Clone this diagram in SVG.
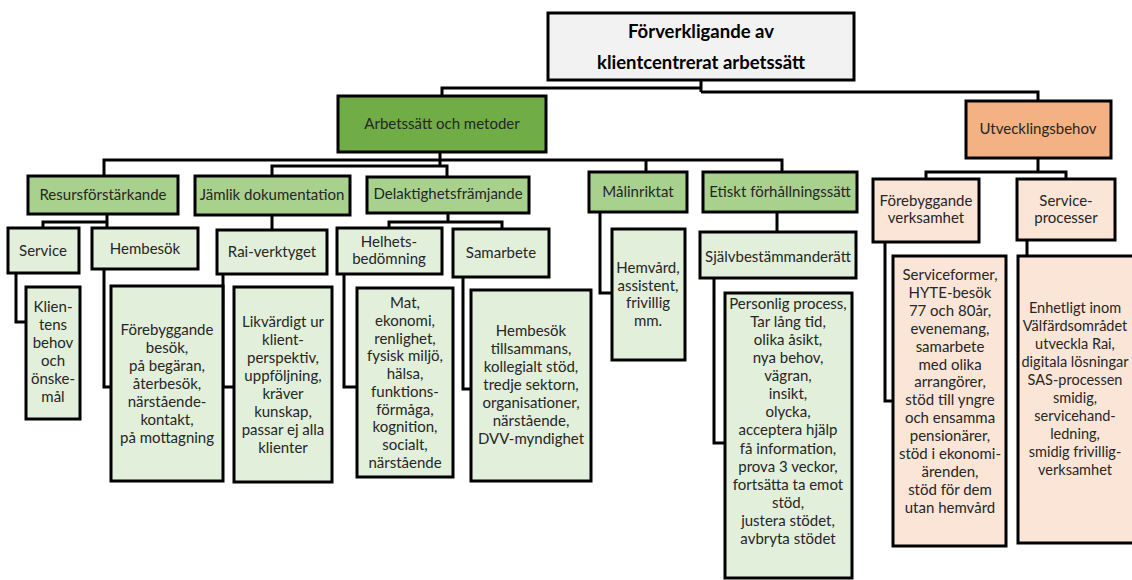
<svg xmlns="http://www.w3.org/2000/svg" width="1132" height="580" viewBox="0 0 1132 580">
<style>
.b{stroke:#000;stroke-width:3}
.root{fill:#f2f2f2}
.g0{fill:#70ad47}
.g1{fill:#a9d18e}
.g2{fill:#e2efda}
.o0{fill:#f4b183}
.o1{fill:#fbe5d6}
text{font-family:Lato,"Open Sans","Liberation Sans",sans-serif;font-size:15px;fill:#262626;text-anchor:middle}
.h{font-size:18.5px;font-weight:bold;fill:#000}
.s{font-size:14.5px}
.c{fill:none;stroke:#000;stroke-width:3}
</style>
<rect width="1132" height="580" fill="#fff"/>
<g id="connectors">
<path class="c" d="M701,80 V92 M442,96 V88 H701 M701,92 H1038 V101"/>
<path class="c" d="M440,152 V166 M104,176 V160 H782 V172 M646,160 V172 M272,176 V166 H447 V177"/>
<path class="c" d="M107,214 V228 M43,228 V222 H107"/>
<path class="c" d="M272,215 V230"/>
<path class="c" d="M448,213 V222 M389,228 V222 H502 V229"/>
<path class="c" d="M777,212 V232"/>
<path class="c" d="M1038,158 V172 M926,179 V172 H1066 V179"/>
<path class="c" d="M16,273 V322 H26 M104,269 V387 H111 M223,274 V387 H234 M344,274 V387 H357 M463,277 V389 H471 M600,212 V293 H612 M714,278 V443 H725 M885,242 V401 H893 M1027,240 V256"/>
</g>
<g id="root"><rect class="b root" x="548" y="13" width="306" height="67"/><text class="h" x="701" y="38">Förverkligande av</text><text class="h" x="701" y="69">klientcentrerat arbetssätt</text></g>
<g id="arbetssatt"><rect class="b g0" x="338" y="96" width="208" height="56"/><text x="442" y="129">Arbetssätt och metoder</text></g>
<g id="utveckling"><rect class="b o0" x="966" y="101" width="145" height="57"/><text x="1038" y="134">Utvecklingsbehov</text></g>
<g id="resurs"><rect class="b g1" x="28" y="176" width="150" height="38"/><text x="103" y="200">Resursförstärkande</text></g>
<g id="jamlik"><rect class="b g1" x="195" y="176" width="155" height="39"/><text x="272" y="200">Jämlik dokumentation</text></g>
<g id="delaktighet"><rect class="b g1" x="367" y="177" width="162" height="36"/><text x="448" y="199">Delaktighetsfrämjande</text></g>
<g id="malinriktat"><rect class="b g1" x="589" y="172" width="98" height="40"/><text x="638" y="197">Målinriktat</text></g>
<g id="etiskt"><rect class="b g1" x="703" y="172" width="154" height="40"/><text x="780" y="197">Etiskt förhållningssätt</text></g>
<g id="service"><rect class="b g2" x="8" y="228" width="71" height="45"/><text x="43" y="256">Service</text></g>
<g id="hembesok"><rect class="b g2" x="92" y="228" width="106" height="41"/><text x="145" y="254">Hembesök</text></g>
<g id="rai"><rect class="b g2" x="217" y="230" width="110" height="44"/><text x="272" y="257">Rai-verktyget</text></g>
<g id="helhet"><rect class="b g2" x="337" y="228" width="105" height="46"/><text x="389" y="247">Helhets-</text><text x="389" y="264">bedömning</text></g>
<g id="samarbete"><rect class="b g2" x="453" y="229" width="96" height="48"/><text x="501" y="258">Samarbete</text></g>
<g id="sjalvbest"><rect class="b g2" x="700" y="232" width="156" height="46"/><text x="778" y="262">Självbestämmanderätt</text></g>
<g id="forebyggande-verksamhet"><rect class="b o1" x="873" y="179" width="106" height="63"/><text x="926" y="206">Förebyggande</text><text x="926" y="223">verksamhet</text></g>
<g id="serviceprocesser"><rect class="b o1" x="1017" y="179" width="98" height="61"/><text x="1066" y="206">Service-</text><text x="1066" y="223">processer</text></g>
<g id="klientens"><rect class="b g2" x="26" y="287" width="54" height="132"/><text x="53" y="312">Klien-</text><text x="53" y="330">tens</text><text x="53" y="348">behov</text><text x="53" y="366">och</text><text x="53" y="384">önske-</text><text x="53" y="402">mål</text></g>
<g id="forebyggande-besok"><rect class="b g2" x="111" y="286" width="112" height="195"/><text x="167" y="335">Förebyggande</text><text x="167" y="353">besök,</text><text x="167" y="371">på begäran,</text><text x="167" y="389">återbesök,</text><text x="167" y="407">närstående-</text><text x="167" y="425">kontakt,</text><text x="167" y="443">på mottagning</text></g>
<g id="likvardigt"><rect class="b g2" x="234" y="287" width="98" height="195"/><text x="283" y="327">Likvärdigt ur</text><text x="283" y="345">klient-</text><text x="283" y="363">perspektiv,</text><text x="283" y="381">uppföljning,</text><text x="283" y="399">kräver</text><text x="283" y="417">kunskap,</text><text x="283" y="435">passar ej alla</text><text x="283" y="453">klienter</text></g>
<g id="mat"><rect class="b g2" x="357" y="288" width="96" height="189"/><text x="405" y="308">Mat,</text><text x="405" y="326">ekonomi,</text><text x="405" y="344">renlighet,</text><text x="405" y="361">fysisk miljö,</text><text x="405" y="379">hälsa,</text><text x="405" y="397">funktions-</text><text x="405" y="415">förmåga,</text><text x="405" y="432">kognition,</text><text x="405" y="450">socialt,</text><text x="405" y="468">närstående</text></g>
<g id="hembesok-tillsammans"><rect class="b g2" x="471" y="290" width="120" height="191"/><text x="531" y="336">Hembesök</text><text x="531" y="354">tillsammans,</text><text x="531" y="372">kollegialt stöd,</text><text x="531" y="390">tredje sektorn,</text><text x="531" y="408">organisationer,</text><text x="531" y="426">närstående,</text><text x="531" y="444">DVV-myndighet</text></g>
<g id="hemvard"><rect class="b g2" x="612" y="229" width="73" height="131"/><text x="648" y="273">Hemvård,</text><text x="648" y="291">assistent,</text><text x="648" y="308">frivillig</text><text x="648" y="326">mm.</text></g>
<g id="personlig"><rect class="b g2" x="725" y="293" width="127" height="285"/><text x="788" y="309">Personlig process,</text><text x="788" y="327">Tar lång tid,</text><text x="788" y="345">olika åsikt,</text><text x="788" y="363">nya behov,</text><text x="788" y="381">vägran,</text><text x="788" y="399">insikt,</text><text x="788" y="417">olycka,</text><text x="788" y="435">acceptera hjälp</text><text x="788" y="454">få information,</text><text x="788" y="472">prova 3 veckor,</text><text x="788" y="490">fortsätta ta emot</text><text x="788" y="508">stöd,</text><text x="788" y="526">justera stödet,</text><text x="788" y="544">avbryta stödet</text></g>
<g id="serviceformer"><rect class="b o1" x="893" y="256" width="113" height="290"/><text x="950" y="280">Serviceformer,</text><text x="950" y="298">HYTE-besök</text><text x="950" y="316">77 och 80år,</text><text x="950" y="334">evenemang,</text><text x="950" y="352">samarbete</text><text x="950" y="370">med olika</text><text x="950" y="387">arrangörer,</text><text x="950" y="405">stöd till yngre</text><text x="950" y="423">och ensamma</text><text x="950" y="441">pensionärer,</text><text x="950" y="459">stöd i ekonomi-</text><text x="950" y="477">ärenden,</text><text x="950" y="495">stöd för dem</text><text x="950" y="513">utan hemvård</text></g>
<g id="enhetligt"><rect class="b o1" x="1018" y="256" width="140" height="287"/><text class="s" x="1075" y="313">Enhetligt inom</text><text class="s" x="1075" y="331">Välfärdsområdet</text><text class="s" x="1075" y="349">utveckla Rai,</text><text class="s" x="1075" y="367">digitala lösningar</text><text class="s" x="1075" y="385">SAS-processen</text><text class="s" x="1075" y="403">smidig,</text><text class="s" x="1075" y="421">servicehand-</text><text class="s" x="1075" y="439">ledning,</text><text class="s" x="1075" y="457">smidig frivillig-</text><text class="s" x="1075" y="475">verksamhet</text></g>
</svg>
